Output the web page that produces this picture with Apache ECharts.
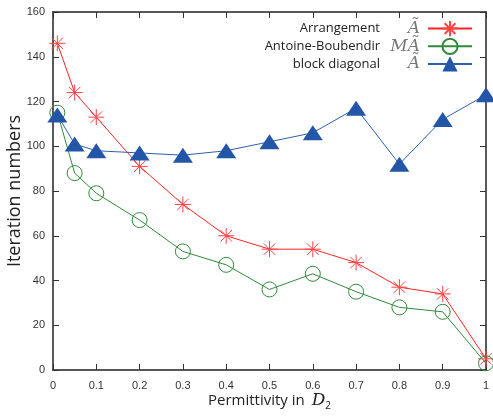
<!DOCTYPE html>
<html>
<head>
<meta charset="utf-8">
<script src="https://cdn.jsdelivr.net/npm/echarts@6/dist/echarts.min.js"></script>
<style>
  html, body { margin: 0; padding: 0; background: #fff; }
  #chart { width: 493px; height: 417px; }
</style>
</head>
<body>
<div id="chart"></div>
<script>
var permittivity = [0.01, 0.05, 0.1, 0.2, 0.3, 0.4, 0.5, 0.6, 0.7, 0.8, 0.9, 1.0];
var arrangement = [146, 124, 113, 91, 74, 60, 54, 54, 48, 37, 34, 5];
var antoineBoubendir = [115, 88, 79, 67, 53, 47, 36, 43, 35, 28, 26, 3];
var blockDiagonal = [114, 101, 98, 97, 96, 98, 102, 106, 117, 92, 112, 123];
var seriesNames = ['Arrangement', 'Antoine-Boubendir', 'block diagonal'];
var mathLabels = ['Ã', 'MÃ', 'Ã'];

function pairs(vals) {
  return permittivity.map(function (x, i) { return [x, vals[i]]; });
}

var star = 'path://M0,8L16,8M8,0L8,16M2.3,2.3L13.7,13.7M13.7,2.3L2.3,13.7';
var labelFont = '"Liberation Sans", Arial, sans-serif';
var titleFont = '"Open Sans", "Liberation Sans", sans-serif';

var chart = echarts.init(document.getElementById('chart'));
var option = {
  animation: false,
  grid: { left: 53, right: 7, top: 12, bottom: 47, outerBoundsMode: 'none', containLabel: false },
  legend: {
    orient: 'vertical',
    right: 20,
    top: 20,
    padding: 0,
    align: 'right',
    itemWidth: 44,
    itemHeight: 19,
    itemGap: 0.5,
    data: seriesNames,
    formatter: function (name) {
      var i = seriesNames.indexOf(name);
      return '{t|' + name + '}{m|' + mathLabels[i] + '}';
    },
    textStyle: {
      rich: {
        t: { fontFamily: titleFont, fontSize: 13, color: '#222' },
        m: { fontFamily: '"DejaVu Serif", "Liberation Serif", serif', fontStyle: 'italic', fontSize: 17, color: '#777', width: 40, align: 'right', padding: [0, 3, 0, 0] }
      }
    }
  },
  xAxis: [
    {
      type: 'value', min: 0, max: 1, interval: 0.1,
      name: 'Permittivity in {d|D}{s|2}',
      nameLocation: 'middle', nameGap: 21, nameMoveOverlap: false,
      nameTextStyle: {
        fontFamily: titleFont, fontSize: 15, color: '#222',
        rich: {
          d: { fontFamily: '"DejaVu Serif", "Liberation Serif", serif', fontStyle: 'italic', fontSize: 17, color: '#222', padding: [0, 0, 0, 3] },
          s: { fontFamily: titleFont, fontSize: 10, color: '#222', padding: [10, 0, 0, 0] }
        }
      },
      axisLine: { show: true, onZero: false, lineStyle: { color: '#222', width: 1.5 } },
      axisTick: { show: true, inside: true, length: 6, lineStyle: { color: '#333' } },
      axisLabel: {
        margin: 10, fontFamily: labelFont, fontSize: 11, color: '#333',
        formatter: function (v) { return String(Math.round(v * 10) / 10); }
      },
      splitLine: { show: false }
    },
    {
      type: 'value', min: 0, max: 1, interval: 0.1, position: 'top',
      axisLine: { show: true, onZero: false, lineStyle: { color: '#222', width: 1.5 } },
      axisTick: { show: true, inside: true, length: 6, lineStyle: { color: '#333' } },
      axisLabel: { show: false },
      splitLine: { show: false }
    }
  ],
  yAxis: [
    {
      type: 'value', min: 0, max: 160, interval: 20,
      name: 'Iteration numbers',
      nameLocation: 'middle', nameGap: 29, nameMoveOverlap: false,
      nameTextStyle: { fontFamily: titleFont, fontSize: 18, color: '#222' },
      axisLine: { show: true, onZero: false, lineStyle: { color: '#222', width: 1.5 } },
      axisTick: { show: true, inside: true, length: 6, lineStyle: { color: '#333' } },
      axisLabel: { margin: 8, fontFamily: labelFont, fontSize: 11, color: '#333' },
      splitLine: { show: false }
    },
    {
      type: 'value', min: 0, max: 160, interval: 20, position: 'right',
      axisLine: { show: true, onZero: false, lineStyle: { color: '#222', width: 1.5 } },
      axisTick: { show: true, inside: true, length: 6, lineStyle: { color: '#333' } },
      axisLabel: { show: false },
      splitLine: { show: false }
    }
  ],
  series: [
    {
      name: seriesNames[0], type: 'line', data: pairs(arrangement),
      symbol: star, symbolSize: 16, showAllSymbol: true,
      lineStyle: { color: '#f22', width: 1 },
      itemStyle: { color: 'rgba(255,0,0,0)', borderColor: '#f44', borderWidth: 1 }
    },
    {
      name: seriesNames[1], type: 'line', data: pairs(antoineBoubendir),
      symbol: 'circle', symbolSize: 15, showAllSymbol: true,
      lineStyle: { color: '#2f8a3a', width: 1 },
      itemStyle: { color: 'rgba(0,0,0,0)', borderColor: '#2f8a3a', borderWidth: 1 }
    },
    {
      name: seriesNames[2], type: 'line', data: pairs(blockDiagonal),
      symbol: 'triangle', symbolSize: [20, 15], showAllSymbol: true,
      lineStyle: { color: '#2d5fae', width: 1 },
      itemStyle: { color: '#2356a6' }
    }
  ]
};
chart.setOption(option);
</script>
</body>
</html>
